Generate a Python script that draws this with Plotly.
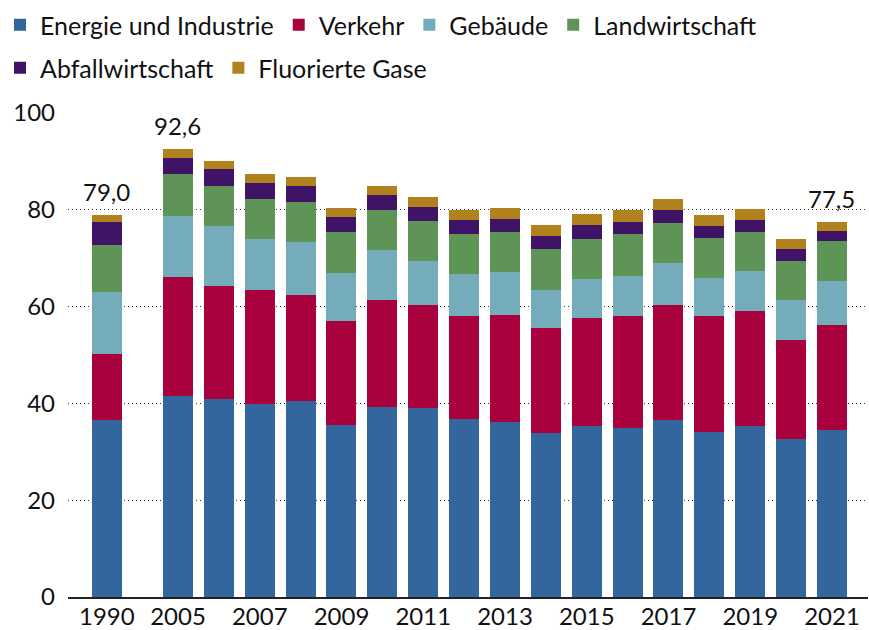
import plotly.graph_objects as go

years = [1990, 2005, 2006, 2007, 2008, 2009, 2010, 2011, 2012, 2013,
         2014, 2015, 2016, 2017, 2018, 2019, 2020, 2021]

energie = [36.5, 41.6, 40.9, 39.9, 40.5, 35.5, 39.3, 39.0, 36.8, 36.2,
           33.9, 35.3, 34.9, 36.6, 34.1, 35.3, 32.6, 34.6]
verkehr = [13.8, 24.6, 23.4, 23.5, 21.9, 21.5, 22.1, 21.3, 21.3, 22.1,
           21.7, 22.3, 23.2, 23.7, 24.0, 23.8, 20.5, 21.5]
gebaeude = [12.7, 12.6, 12.4, 10.6, 10.9, 9.9, 10.3, 9.1, 8.6, 8.8,
            7.8, 8.1, 8.2, 8.7, 7.8, 8.3, 8.3, 9.1]
landwirtschaft = [9.7, 8.5, 8.2, 8.2, 8.3, 8.5, 8.3, 8.3, 8.3, 8.3,
                  8.5, 8.3, 8.7, 8.3, 8.3, 8.0, 8.0, 8.3]
abfall = [4.8, 3.5, 3.5, 3.3, 3.3, 3.1, 3.1, 2.9, 2.9, 2.7,
          2.7, 2.9, 2.5, 2.7, 2.5, 2.5, 2.5, 2.2]
fluor = [1.5, 1.8, 1.7, 1.9, 1.9, 1.9, 1.8, 2.0, 2.1, 2.3,
         2.3, 2.2, 2.5, 2.2, 2.2, 2.3, 2.1, 1.8]

series_names = ["Energie und Industrie", "Verkehr", "Gebäude",
                "Landwirtschaft", "Abfallwirtschaft", "Fluorierte Gase"]
series_values = [energie, verkehr, gebaeude, landwirtschaft, abfall, fluor]
series_colors = ["#33669D", "#A9003E", "#74ACBC", "#5F9457", "#3F1466", "#B0811C"]

tick_years = [1990, 2005, 2007, 2009, 2011, 2013, 2015, 2017, 2019, 2021]
labelled_years = [1990, 2005, 2021]

# layout: gap between 1990 and the 2005 block (in bar slots)
GAP_1990 = 1.74
def slot(y):
    return y - 2005 if y >= 2005 else -GAP_1990

xpos = [slot(y) for y in years]

FONT = "Lato"
fig = go.Figure()
for i, (name, vals, col) in enumerate(zip(series_names, series_values, series_colors)):
    fig.add_trace(go.Bar(
        x=xpos, y=vals, name=name, marker=dict(color=col, line=dict(width=0)),
        width=0.734, legend="legend" if i < 4 else "legend2",
        hovertemplate="%{y}<extra>" + name + "</extra>",
    ))

totals = [sum(v) for v in zip(*series_values)]
for y, t, p in zip(years, totals, xpos):
    if y in labelled_years:
        fig.add_annotation(x=p, y=t, text=f"{t:.1f}".replace(".", ","),
                           showarrow=False, yanchor="bottom", yshift=7,
                           font=dict(family=FONT, size=24, color="#111"))

legend_common = dict(orientation="h", xref="container", yref="container",
                     xanchor="left", yanchor="middle", traceorder="normal",
                     font=dict(family=FONT, size=25, color="#111"),
                     bgcolor="rgba(0,0,0,0)")

fig.update_layout(
    width=869, height=630,
    margin=dict(l=68, r=1, t=113, b=33, autoexpand=False),
    barmode="stack",
    plot_bgcolor="white", paper_bgcolor="white",
    font=dict(family=FONT, size=24, color="#111"),
    legend=dict(x=-0.008, y=1 - 25 / 630, **legend_common),
    legend2=dict(x=-0.008, y=1 - 68 / 630, **legend_common),
    xaxis=dict(range=[-2.691, 16.881], tickvals=[slot(y) for y in tick_years],
               ticktext=[str(y) for y in tick_years], showgrid=False, zeroline=False,
               showline=True, linecolor="#222", linewidth=1.5, ticks="",
               ticklabelstandoff=-3, tickfont=dict(family=FONT, size=24, color="#111")),
    yaxis=dict(range=[0, 100], tickvals=[0, 20, 40, 60, 80, 100], showgrid=True,
               gridcolor="#333", griddash="1px,3px", gridwidth=1, zeroline=False,
               ticks="", ticklabelstandoff=12,
               tickfont=dict(family=FONT, size=24, color="#111")),
)

fig.write_html("out.html", config={"displayModeBar": False},
               post_script="document.body.style.margin='0';")
